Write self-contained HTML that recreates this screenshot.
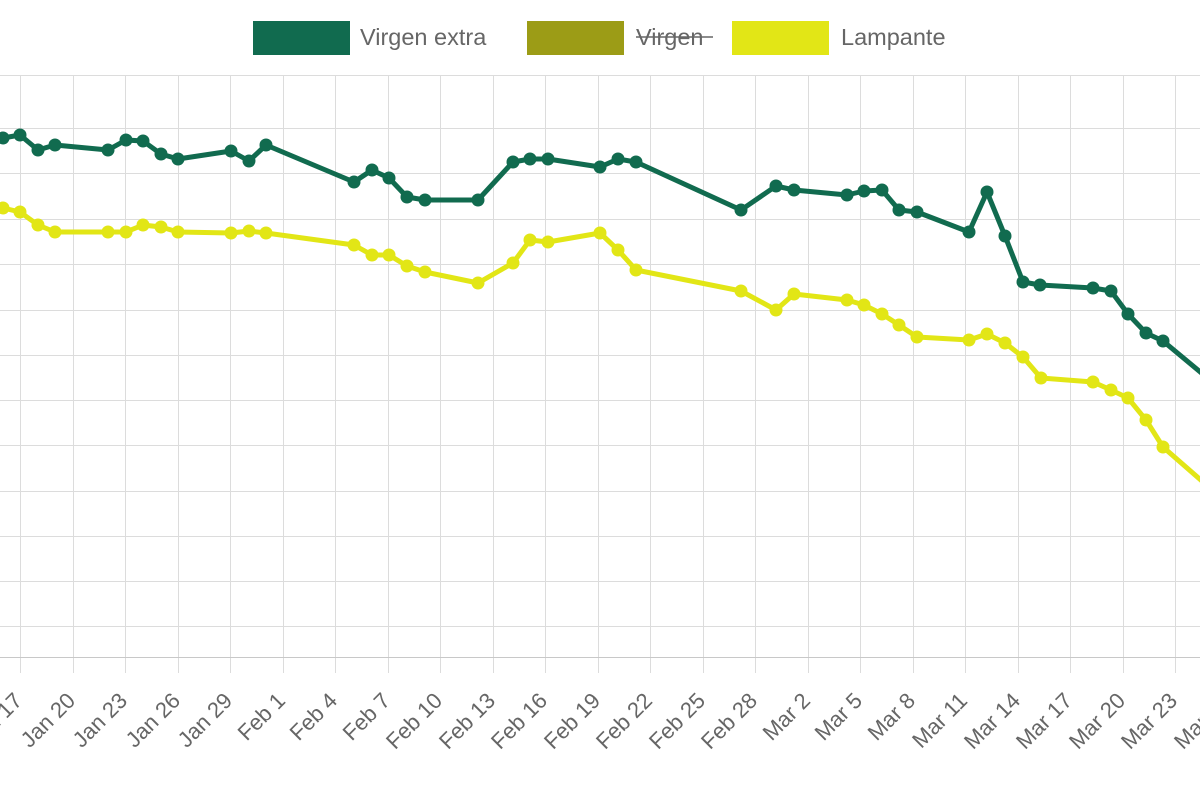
<!DOCTYPE html>
<html><head><meta charset="utf-8"><style>
html,body{margin:0;padding:0;background:#fff;}
svg{display:block;font-family:"Liberation Sans",Arial,sans-serif;}
</style></head><body>
<svg width="1200" height="800" viewBox="0 0 1200 800">
<g stroke="#dcdcdc" stroke-width="1">
<line x1="0" y1="75.5" x2="1200" y2="75.5"/>
<line x1="0" y1="128.5" x2="1200" y2="128.5"/>
<line x1="0" y1="173.5" x2="1200" y2="173.5"/>
<line x1="0" y1="219.5" x2="1200" y2="219.5"/>
<line x1="0" y1="264.5" x2="1200" y2="264.5"/>
<line x1="0" y1="310.5" x2="1200" y2="310.5"/>
<line x1="0" y1="355.5" x2="1200" y2="355.5"/>
<line x1="0" y1="400.5" x2="1200" y2="400.5"/>
<line x1="0" y1="445.5" x2="1200" y2="445.5"/>
<line x1="0" y1="491.5" x2="1200" y2="491.5"/>
<line x1="0" y1="536.5" x2="1200" y2="536.5"/>
<line x1="0" y1="581.5" x2="1200" y2="581.5"/>
<line x1="0" y1="626.5" x2="1200" y2="626.5"/>
</g>
<g stroke="#dcdcdc" stroke-width="1" id="vg"></g>
<line x1="0" y1="657.5" x2="1200" y2="657.5" stroke="#c8c8c8"/>
<g id="xl" fill="#666" font-size="22"></g>
<g id="series"></g>
<rect x="253" y="21" width="97" height="34" fill="#116b4f"/>
<text x="360" y="45" font-size="23.5" fill="#666">Virgen extra</text>
<rect x="527" y="21" width="97" height="34" fill="#9c9c16"/>
<text x="636" y="45" font-size="23.5" fill="#666">Virgen</text>
<line x1="636" y1="37" x2="713" y2="37" stroke="#666" stroke-width="1.5"/>
<rect x="732" y="21" width="97" height="34" fill="#e2e616"/>
<text x="841" y="45" font-size="23.5" fill="#666">Lampante</text>
</svg>
<script>
var ns="http://www.w3.org/2000/svg";
function el(t,a,p){var e=document.createElementNS(ns,t);for(var k in a)e.setAttribute(k,a[k]);p.appendChild(e);return e;}
var vg=document.getElementById('vg'),xl=document.getElementById('xl');
var labels=["Jan 17","Jan 20","Jan 23","Jan 26","Jan 29","Feb 1","Feb 4","Feb 7","Feb 10","Feb 13","Feb 16","Feb 19","Feb 22","Feb 25","Feb 28","Mar 2","Mar 5","Mar 8","Mar 11","Mar 14","Mar 17","Mar 20","Mar 23","Mar 26"];
for(var i=0;i<labels.length;i++){var x=Math.round(20+i*52.5)+0.5;
el('line',{x1:x,y1:75,x2:x,y2:673},vg);
var t=el('text',{x:0,y:0,'text-anchor':'end',transform:'translate('+(x+3)+',702) rotate(-45)'},xl);t.textContent=labels[i];}
var g=[[3,138],[20,135],[38,150],[55,145],[108,150],[126,140],[143,141],[161,154],[178,159],[231,151],[249,161],[266,145],[354,182],[372,170],[389,178],[407,197],[425,200],[478,200],[513,162],[530,159],[548,159],[600,167],[618,159],[636,162],[741,210],[776,186],[794,190],[847,195],[864,191],[882,190],[899,210],[917,212],[969,232],[987,192],[1005,236],[1023,282],[1040,285],[1093,288],[1111,291],[1128,314],[1146,333],[1163,341],[1210,380]];
var y=[[3,208],[20,212],[38,225],[55,232],[108,232],[126,232],[143,225],[161,227],[178,232],[231,233],[249,231],[266,233],[354,245],[372,255],[389,255],[407,266],[425,272],[478,283],[513,263],[530,240],[548,242],[600,233],[618,250],[636,270],[741,291],[776,310],[794,294],[847,300],[864,305],[882,314],[899,325],[917,337],[969,340],[987,334],[1005,343],[1023,357],[1041,378],[1093,382],[1111,390],[1128,398],[1146,420],[1163,447],[1210,488]];
var s=document.getElementById('series');
function draw(d,c){el('polyline',{points:d.map(function(p){return p.join(',')}).join(' '),fill:'none',stroke:c,'stroke-width':5,'stroke-linejoin':'round'},s);
d.forEach(function(p){el('circle',{cx:p[0],cy:p[1],r:6.5,fill:c},s);});}
draw(y,'#e2e616');draw(g,'#116b4f');
</script>
</body></html>
